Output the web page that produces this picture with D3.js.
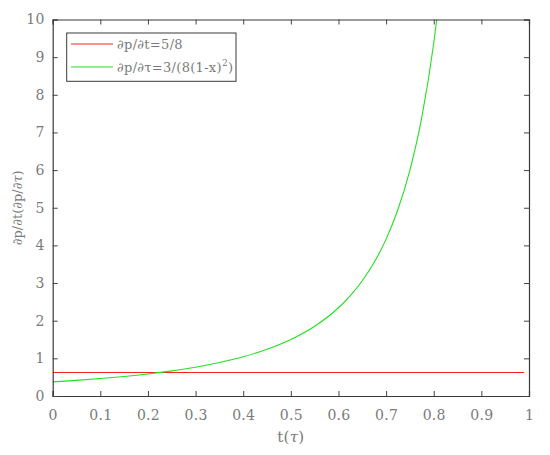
<!DOCTYPE html>
<html><head><meta charset="utf-8">
<script src="https://cdn.jsdelivr.net/npm/d3@7"></script>
<style>body{margin:0;background:#fff}svg{display:block}svg text{font-family:"DejaVu Serif",serif;letter-spacing:0.3px}</style>
</head><body>
<svg id="c" width="550" height="455"></svg>
<script>
const xTicks = [0,0.1,0.2,0.3,0.4,0.5,0.6,0.7,0.8,0.9,1];
const xTickLabels = ["0","0.1","0.2","0.3","0.4","0.5","0.6","0.7","0.8","0.9","1"];
const yTicks = [0,1,2,3,4,5,6,7,8,9,10];
const redT = [0, 0.99];
const redV = [0.625, 0.625];
const greenT = [0,0.05,0.1,0.15,0.2,0.25,0.3,0.35,0.4,0.45,0.5,0.55,0.6,0.625,0.65,0.675,0.7,0.725,0.75,0.775,0.8,0.807];
const greenV = [0.375,0.416,0.463,0.519,0.586,0.667,0.765,0.888,1.042,1.240,1.5,1.852,2.344,2.667,3.061,3.550,4.167,4.959,6.0,7.407,9.375,10.07];
const legendLabels = ["∂p/∂t=5/8", "∂p/∂τ=3/(8(1-x)"];

const L=52.7,R=529,T=19.5,B=396;
const svg=d3.select("#c");
const x=d3.scaleLinear().domain([0,1]).range([L,R]);
const y=d3.scaleLinear().domain([0,10]).range([B,T]);
const tc="#7a7a7a";

svg.append("clipPath").attr("id","clip").append("rect").attr("x",L).attr("y",T).attr("width",R-L).attr("height",B-T);

const line=d3.line().x(d=>x(d[0])).y(d=>y(d[1]));
svg.append("path").datum(redT.map((t,i)=>[t,redV[i]])).attr("d",line).attr("fill","none").attr("stroke","#ff2020").attr("stroke-width",1.1).attr("clip-path","url(#clip)");
svg.append("path").datum(greenT.map((t,i)=>[t,greenV[i]])).attr("d",line.curve(d3.curveMonotoneX)).attr("fill","none").attr("stroke","#22e022").attr("stroke-width",1.1).attr("clip-path","url(#clip)");

// axes
const ax="#444";
const gx=svg.append("g").attr("transform",`translate(0,${B})`).call(d3.axisBottom(x).tickValues(xTicks).tickFormat((d,i)=>xTickLabels[i]).tickSize(-5).tickPadding(14));
const gxt=svg.append("g").attr("transform",`translate(0,${T})`).call(d3.axisTop(x).tickValues(xTicks).tickFormat("").tickSize(-5));
const gy=svg.append("g").attr("transform",`translate(${L},0)`).call(d3.axisLeft(y).tickValues(yTicks).tickSize(-5).tickPadding(8));
const gyr=svg.append("g").attr("transform",`translate(${R},0)`).call(d3.axisRight(y).tickValues(yTicks).tickFormat("").tickSize(-5));
[gx,gxt,gy,gyr].forEach(g=>{g.attr("font-family",null);g.selectAll("path,line").attr("stroke",ax).attr("stroke-width",1);g.selectAll("text").attr("fill",tc).style("font-size","14px");});
svg.selectAll(".domain").attr("stroke","#3a3a3a").attr("stroke-width",1.2);

// labels
const xl=svg.append("text").attr("x",(L+R)/2).attr("y",442).attr("text-anchor","middle").attr("fill",tc).style("font-size","15px");
xl.append("tspan").text("t(");xl.append("tspan").style("font-style","italic").text("τ");xl.append("tspan").text(")");
const yl=svg.append("text").attr("transform",`translate(22,${(T+B)/2}) rotate(-90)`).attr("text-anchor","middle").attr("fill",tc).style("font-size","13px").style("letter-spacing","0px");
yl.append("tspan").text("∂p/∂t(∂p/∂");yl.append("tspan").style("font-style","italic").text("τ");yl.append("tspan").text(")");

// legend
const lg=svg.append("g");
lg.append("rect").attr("x",66.7).attr("y",33).attr("width",169.3).attr("height",48.3).attr("fill","#fff").attr("stroke","#3a3a3a").attr("stroke-width",1);
const cols=["#ff2020","#22e022"];
const ly=[44,67];
legendLabels.forEach((s,i)=>{
  lg.append("line").attr("x1",71).attr("x2",113).attr("y1",ly[i]).attr("y2",ly[i]).attr("stroke",cols[i]).attr("stroke-width",1.1);
  const t=lg.append("text").attr("x",117).attr("y",ly[i]+5).attr("fill",tc).style("font-size","13px").text(s);
  if(i===1){t.append("tspan").attr("dy",-6).style("font-size","9px").text("2");t.append("tspan").attr("dy",6).text(")");}
});
</script>
</body></html>
